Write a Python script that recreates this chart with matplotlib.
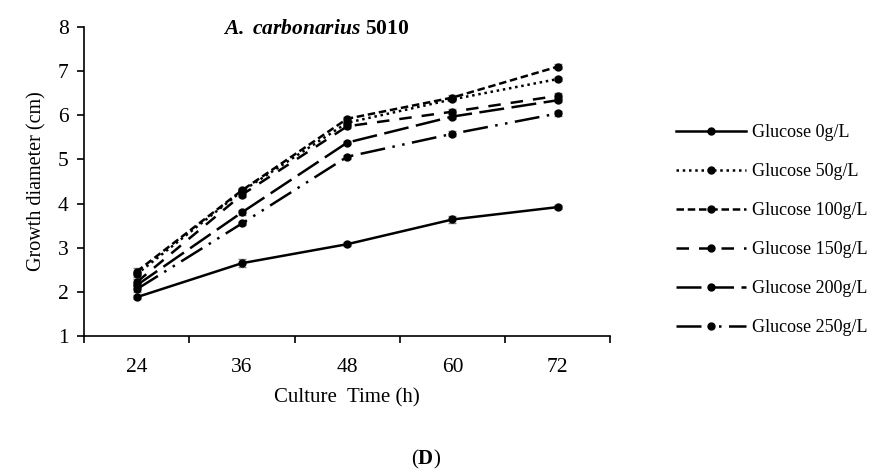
import matplotlib
matplotlib.use('Agg')
import matplotlib.pyplot as plt

plt.rcParams['font.family'] = ['Liberation Serif', 'DejaVu Serif']
plt.rcParams['mathtext.fontset'] = 'custom'
plt.rcParams['mathtext.rm'] = 'Liberation Serif'
plt.rcParams['mathtext.it'] = 'Liberation Serif:italic'
plt.rcParams['mathtext.bf'] = 'Liberation Serif:bold'
plt.rcParams['mathtext.bfit'] = 'Liberation Serif:italic:bold'

hours = ['24', '36', '48', '60', '72']
labels = ['Glucose 0g/L', 'Glucose 50g/L', 'Glucose 100g/L',
          'Glucose 150g/L', 'Glucose 200g/L', 'Glucose 250g/L']

g0 = [1.88, 2.65, 3.08, 3.64, 3.92]
g50 = [2.40, 4.28, 5.83, 6.36, 6.82]
g100 = [2.46, 4.30, 5.92, 6.40, 7.10]
g150 = [2.22, 4.20, 5.75, 6.08, 6.44]
g200 = [2.15, 3.80, 5.38, 5.97, 6.34]
g250 = [2.06, 3.55, 5.06, 5.58, 6.04]

err0 = [0.05, 0.09, 0.04, 0.08, 0.05]
err50 = [0.06, 0.05, 0.05, 0.04, 0.05]
err100 = [0.07, 0.06, 0.05, 0.05, 0.06]
err150 = [0.07, 0.05, 0.05, 0.05, 0.06]
err200 = [0.06, 0.05, 0.04, 0.06, 0.05]
err250 = [0.06, 0.04, 0.04, 0.06, 0.05]

series = [g0, g50, g100, g150, g200, g250]
errors = [err0, err50, err100, err150, err200, err250]
styles = ['-', (0, (1, 1.5)), (0, (3, 1.5)), (0, (5, 4)),
          (0, (10, 3)), (0, (10, 3, 1, 3, 1, 3))]

fig = plt.figure(figsize=(8.7, 4.72), dpi=100)
ax = fig.add_axes([0.0966, 0.288, 0.605, 0.655])

x = list(range(len(hours)))
for vals, err, ls, lab in zip(series, errors, styles, labels):
    ax.errorbar(x, vals, yerr=err, fmt='none', ecolor='#7f7f7f',
                elinewidth=1, capsize=3, capthick=1, zorder=2)
    ax.plot(x, vals, color='black', linestyle=ls, linewidth=1.8,
            marker='o', markersize=5, label=lab, zorder=3)

ax.set_xlim(-0.5, 4.5)
ax.set_ylim(1, 8)
ax.set_xticks([i - 0.5 for i in range(6)])
ax.set_xticklabels([])
ax.set_xticks(x, minor=True)
ax.set_xticklabels(hours, minor=True)
ax.tick_params(axis='x', which='minor', length=0, pad=16, labelsize=15.5)
ax.tick_params(axis='x', which='major', length=5, width=1.2, direction='out')
ax.tick_params(axis='y', length=5, width=1.2, direction='out', labelsize=15.5, pad=6)
ax.set_yticks(range(1, 9))

for s in ['top', 'right']:
    ax.spines[s].set_visible(False)
for s in ['left', 'bottom']:
    ax.spines[s].set_linewidth(1.2)

ax.set_xlabel('Culture  Time (h)', fontsize=15, labelpad=8)
ax.set_ylabel('Growth diameter (cm)', fontsize=14.5, labelpad=8)
fig.text(316 / 870, 1 - 29 / 472, r'$\mathbfit{A.\ carbonarius}$ 5010',
         fontsize=15.5, fontweight='bold', ha='center', va='center')

ax.legend(loc='upper left', bbox_to_anchor=(676 / 870, 1 - 124 / 472),
          bbox_transform=fig.transFigure, frameon=False,
          fontsize=13, handlelength=3.9, labelspacing=1.22, numpoints=1,
          handletextpad=0.3, borderpad=0, borderaxespad=0)

fig.text(426 / 870, 1 - 459 / 472, r'($\mathbf{D}$)', fontsize=15,
         ha='center', va='center')

fig.savefig('out.png', dpi=100)
